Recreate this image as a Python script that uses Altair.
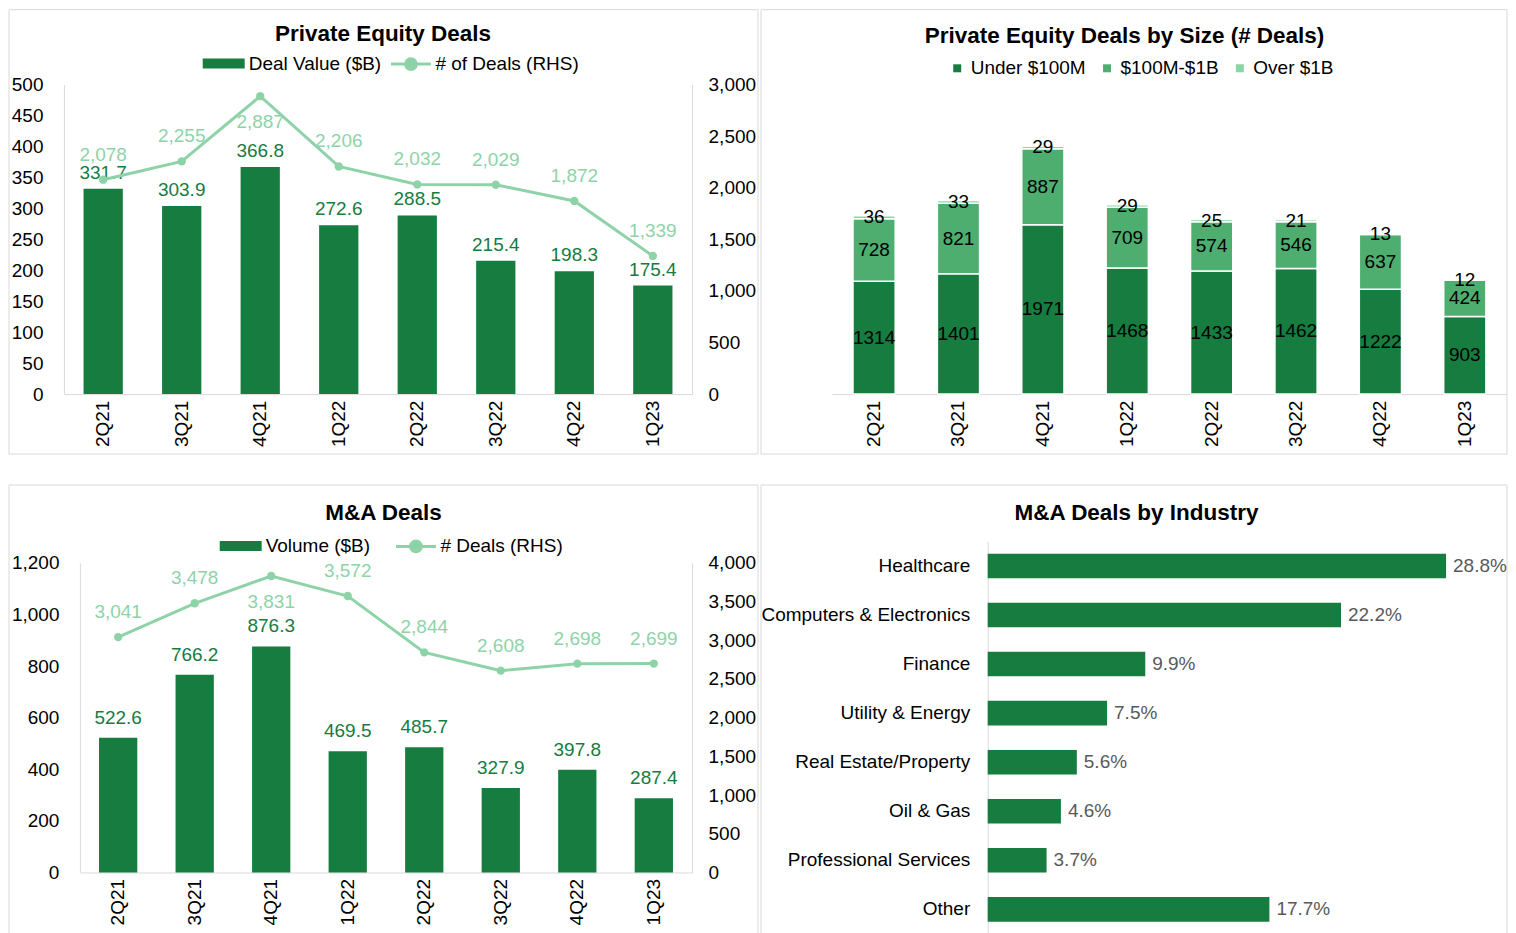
import altair as alt
import pandas as pd

# ---------------- data ----------------
quarters = ["2Q21", "3Q21", "4Q21", "1Q22", "2Q22", "3Q22", "4Q22", "1Q23"]
pe_value = [331.7, 303.9, 366.8, 272.6, 288.5, 215.4, 198.3, 175.4]
pe_deals = [2078, 2255, 2887, 2206, 2032, 2029, 1872, 1339]

size_names = ["Under $100M", "$100M-$1B", "Over $1B"]
size_under = [1314, 1401, 1971, 1468, 1433, 1462, 1222, 903]
size_mid = [728, 821, 887, 709, 574, 546, 637, 424]
size_over = [36, 33, 29, 29, 25, 21, 13, 12]

ma_volume = [522.6, 766.2, 876.3, 469.5, 485.7, 327.9, 397.8, 287.4]
ma_deals = [3041, 3478, 3831, 3572, 2844, 2608, 2698, 2699]

industries = ["Healthcare", "Computers & Electronics", "Finance", "Utility & Energy",
              "Real Estate/Property", "Oil & Gas", "Professional Services", "Other"]
industry_share = [28.8, 22.2, 9.9, 7.5, 5.6, 4.6, 3.7, 17.7]

# ---------------- style ----------------
FONT = "Liberation Sans"
DARK = "#167C3F"
MID = "#4DAE70"
LIGHT = "#8AD6A2"
LINE = "#8ED3A8"
BORDER = "#D9D9D9"
FS = 19
TFS = 22.5

BAR_SYM = "M-1,-0.24H1V0.24H-1Z"
LINE_SYM = "M-1,0H1M0.27,0A0.27,0.27,0,1,1,-0.27,0A0.27,0.27,0,1,1,0.27,0Z"

W_L, W_R, H = 629, 676, 310


def frame(x, x2, y, y2):
    return alt.Chart(pd.DataFrame({"k": [0]})).mark_rect(
        fill="white", fillOpacity=0, stroke=BORDER, strokeWidth=1
    ).encode(x=alt.value(x), x2=alt.value(x2), y=alt.value(y), y2=alt.value(y2))


def x_quarters(start, end):
    return alt.X("quarter:N", sort=quarters, title=None,
                 scale=alt.Scale(paddingInner=0.5, paddingOuter=0.25, range=[start, end]),
                 axis=alt.Axis(labelAngle=-90, labelPadding=6, ticks=False,
                               domainColor=BORDER, labelFontSize=FS))


def title(text, dx, off):
    return alt.TitleParams(text, fontSize=TFS, fontWeight="bold", font=FONT,
                           anchor="middle", frame="group", dx=dx, offset=off,
                           color="#000")


def combo_panel(values, deals, bar_name, line_name, ldom, lstep, lfmt, x0,
                rdom, rstep, bar_dy, leg_bar_x, leg_line_x, leg_y, ttl, title_dx,
                title_off, frame_top, frame_bottom):
    df = pd.DataFrame({"quarter": quarters, "value": values, "deals": deals})
    base = alt.Chart(df)
    xq = x_quarters(x0, W_L)
    yl = alt.Y("value:Q", title=None, scale=alt.Scale(domain=[0, ldom]),
               axis=alt.Axis(values=list(range(0, ldom + 1, lstep)), format=lfmt,
                             labelPadding=21, ticks=False, grid=False, offset=-x0,
                             domainColor=BORDER))
    yr = alt.Y("deals:Q", title=None, scale=alt.Scale(domain=[0, rdom]),
               axis=alt.Axis(orient="right", values=list(range(0, rdom + 1, rstep)),
                             format=",d", labelPadding=16, ticks=False, grid=False,
                             domainColor=BORDER))
    bars = base.transform_calculate(s=f"'{bar_name}'").mark_bar().encode(
        x=xq, y=yl,
        color=alt.Color("s:N", scale=alt.Scale(range=[DARK]),
                        legend=alt.Legend(title=None, orient="none", legendX=leg_bar_x,
                                          legendY=leg_y, symbolType=BAR_SYM,
                                          symbolSize=1764, labelOffset=4,
                                          symbolStrokeWidth=0)))
    btext = base.mark_text(color=DARK, fontSize=FS, dy=bar_dy).encode(
        x=xq, y=yl, text=alt.Text("value:Q", format=".1f"))
    left = alt.layer(bars, btext)

    line = base.transform_calculate(s2=f"'{line_name}'").mark_line(strokeWidth=3).encode(
        x=xq, y=yr,
        stroke=alt.Stroke("s2:N", scale=alt.Scale(range=[LINE]),
                          legend=alt.Legend(title=None, orient="none", legendX=leg_line_x,
                                            legendY=leg_y, symbolType=LINE_SYM,
                                            symbolSize=1600, symbolStrokeWidth=3,
                                            symbolFillColor=LINE, labelOffset=3)))
    pts = base.mark_circle(size=70, color=LINE, opacity=1).encode(x=xq, y=yr)
    lt = base.transform_joinaggregate(mx="max(deals)")
    ltext_a = lt.transform_filter("datum.deals < datum.mx").mark_text(
        color=LINE, fontSize=FS, dy=-25).encode(
        x=xq, y=yr, text=alt.Text("deals:Q", format=",d"))
    ltext_b = lt.transform_filter("datum.deals >= datum.mx").mark_text(
        color=LINE, fontSize=FS, dy=26).encode(
        x=xq, y=yr, text=alt.Text("deals:Q", format=",d"))
    right = alt.layer(line, pts, ltext_a, ltext_b)

    return alt.layer(frame(-55, W_L + 66, frame_top, frame_bottom), left, right).resolve_scale(
        y="independent", color="independent", stroke="independent"
    ).properties(width=W_L, height=H, title=title(ttl, title_dx, title_off))


# ---------------- panel 1: PE deals ----------------
p1 = combo_panel(pe_value, pe_deals, "Deal Value ($B)", "# of Deals (RHS)",
                 500, 50, "d", 0, 3000, 500, -16, 139, 326, -42,
                 "Private Equity Deals", 5, -36, -75, H + 60)

# ---------------- panel 2: PE deals by size ----------------
rows = []
for i, q in enumerate(quarters):
    for r, vals in enumerate([size_under, size_mid, size_over]):
        rows.append({"quarter": q, "size": size_names[r], "rank": r, "count": vals[i]})
size_df = pd.DataFrame(rows)
sbase = alt.Chart(size_df).transform_stack(
    stack="count", groupby=["quarter"], as_=["y0", "y1"],
    sort=[alt.SortField("rank", order="ascending")]
).transform_calculate(mid="(datum.y0 + datum.y1) / 2")
yscale_s = alt.Scale(domain=[0, 3500], range=[H, 9])
xs = x_quarters(0, W_R)
ys = alt.Y("y0:Q", title=None, scale=yscale_s,
           axis=alt.Axis(values=list(range(0, 3501, 500)), format=",d", labelPadding=21,
                         ticks=False, grid=False, domainColor=BORDER))
sbars = sbase.mark_bar(stroke="white", strokeWidth=1.5).encode(
    x=xs, y=ys, y2="y1:Q",
    color=alt.Color("size:N", sort=size_names,
                    scale=alt.Scale(domain=size_names, range=[DARK, MID, LIGHT]),
                    legend=alt.Legend(title=None, orient="none", legendX=116, legendY=-26,
                                      direction="horizontal", symbolType="square",
                                      symbolSize=64, labelOffset=4, columnPadding=11,
                                      symbolStrokeWidth=0)))
stext = sbase.mark_text(color="#000", fontSize=FS).encode(
    x=xs, y=alt.Y("mid:Q", scale=yscale_s, axis=None),
    text=alt.Text("count:Q", format="d"))
p2 = alt.layer(frame(-71, W_R, -75, H + 60), sbars, stext).properties(
    width=W_R, height=H,
    title=title("Private Equity Deals by Size (# Deals)", -45, -38))

# ---------------- panel 3: M&A deals ----------------
p3 = combo_panel(ma_volume, ma_deals, "Volume ($B)", "# Deals (RHS)",
                 1200, 200, ",d", 16, 4000, 500, -20, 156, 331, -38,
                 "M&A Deals", 5.5, -40, -78, H + 80)

# ---------------- panel 4: M&A by industry ----------------
ind_df = pd.DataFrame({"industry": industries, "share": industry_share})
ibase = alt.Chart(ind_df)
yi = alt.Y("industry:N", sort=industries, title=None,
           scale=alt.Scale(paddingInner=0.5, paddingOuter=0.25, range=[-21.5, 371.5]),
           axis=alt.Axis(labelPadding=18, ticks=False, domainColor=BORDER, offset=-156,
                         labelLimit=400, labelFontSize=FS))
xi = alt.X("share:Q", scale=alt.Scale(domain=[0, 32], range=[156, 666]), axis=None)
ibars = ibase.mark_bar(color=DARK).encode(x=xi, y=yi)
itext = ibase.transform_calculate(lbl="format(datum.share, '.1f') + '%'").mark_text(
    align="left", dx=7, color="#595959", fontSize=FS).encode(x=xi, y=yi, text="lbl:N")
p4 = alt.layer(frame(-71, W_R, -78, H + 80), ibars, itext).properties(
    width=W_R, height=H, title=title("M&A Deals by Industry", -33, -40))

chart = alt.concat(p1, p2, p3, p4, columns=2, spacing={"row": 29, "column": 1},
                   align="each", bounds="full").resolve_scale(
    color="independent", stroke="independent"
).configure(
    font=FONT, padding=0
).configure_view(stroke=None).configure_axis(
    labelFont=FONT, labelFontSize=FS, labelColor="#000", domainColor=BORDER,
    ticks=False, grid=False
).configure_legend(
    labelFont=FONT, labelFontSize=FS, labelColor="#000", padding=0
).configure_text(font=FONT, fontSize=FS)

chart.save("out.html", embed_options={"renderer": "svg", "actions": False})
